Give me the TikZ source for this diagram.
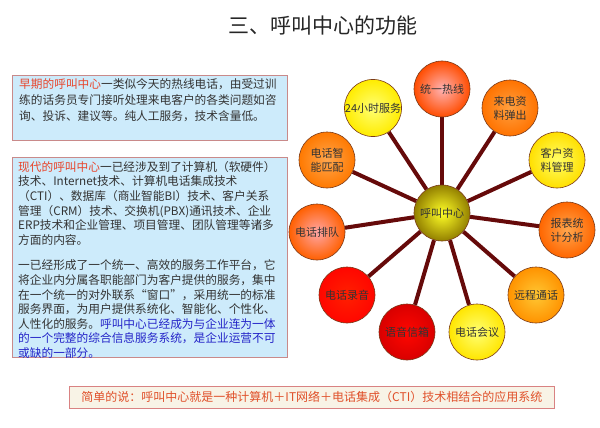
\documentclass[tikz,border=0pt]{standalone}
\usepackage{fontspec}
\setmainfont{Noto Sans CJK SC}
\usepackage{xcolor}
\usepackage{tikz}
\usetikzlibrary{calc,positioning,backgrounds}
\definecolor{textdark}{HTML}{333333}
\definecolor{labelred}{HTML}{E8452C}
\definecolor{noteblue}{HTML}{2424C8}
\definecolor{boxblue}{HTML}{CDEBFB}
\definecolor{boxrose}{HTML}{C98A8A}
\definecolor{sumfill}{HTML}{F8F3E6}
\definecolor{sumline}{HTML}{D98282}
\definecolor{sumtext}{HTML}{E0502A}
\definecolor{spokered}{HTML}{660A0A}
\definecolor{ballrim}{HTML}{7A3A1A}

\begin{document}
\begin{tikzpicture}[
  x=1pt, y=1pt,
  infobox/.style={
    rectangle, fill=boxblue, draw=boxrose, line width=0.8pt,
    anchor=north west, inner sep=0pt,
  },
  infotext/.style={
    anchor=north west, align=left, inner sep=0pt, text=textdark,
  },
  hubball/.style={
    circle, minimum size=56pt, inner sep=0pt, draw=ballrim, line width=0.6pt,
    shading=radial, inner color=yellow!85!white, outer color=olive!70!brown,
    font=\fontsize{11}{13}\selectfont, text=textdark,
  },
  featball/.style={
    circle, minimum size=56pt, inner sep=0pt, draw=ballrim, line width=0.6pt,
    shading=radial, align=center,
    font=\fontsize{11}{14}\selectfont, text=textdark,
  },
  spoke/.style={line width=4pt, draw=spokered},
]
\useasboundingbox (0,0) rectangle (600,-428);

% Title
\node[font=\fontsize{21}{24}\selectfont, text=black!85] (title) at (323,-25) {三、呼叫中心的功能};

% Left boxes
\node[infobox, minimum width=275pt, minimum height=65pt] (early) at (12,-75) {};
\node[infotext, font=\fontsize{11.7}{16}\selectfont] (earlytext) at (19,-78) {%
  {\color{labelred}早期的呼叫中心}一类似今天的热线电话，由受过训\\
  练的话务员专门接听处理来电客户的各类问题如咨\\
  询、投诉、建议等。纯人工服务，技术含量低。};

\node[infobox, minimum width=275pt, minimum height=200pt] (modern) at (12,-157) {};
\node[infotext, font=\fontsize{11.7}{14.6}\selectfont] (moderntext) at (18,-161) {%
  {\color{labelred}现代的呼叫中心}一已经涉及到了计算机（软硬件）\\
  技术、Internet技术、计算机电话集成技术\\
  （CTI）、数据库（商业智能BI）技术、客户关系\\
  管理（CRM）技术、交换机(PBX)通讯技术、企业\\
  ERP技术和企业管理、项目管理、团队管理等诸多\\
  方面的内容。\\[11pt]
  一已经形成了一个统一、高效的服务工作平台，它\\
  将企业内分属各职能部门为客户提供的服务，集中\\
  在一个统一的对外联系“窗口”，采用统一的标准\\
  服务界面，为用户提供系统化、智能化、个性化、\\
  人性化的服务。{\color{noteblue}呼叫中心已经成为与企业连为一体}\\
  {\color{noteblue}的一个完整的综合信息服务系统，是企业运营不可}\\
  {\color{noteblue}或缺的一部分。}};

% Summary
\node[rectangle, fill=sumfill, draw=sumline, line width=0.8pt,
  minimum width=485pt, minimum height=22pt, anchor=north west,
  font=\fontsize{12}{14}\selectfont, text=sumtext] (summary) at (69,-386)
  {简单的说：呼叫中心就是一种计算机＋IT网络＋电话集成（CTI）技术相结合的应用系统};

% Hub and features
\node[hubball] (hub) at (442,-213) {呼叫中心};
\node[featball, inner color=red!30!white, outer color=orange!60!red] (hotline) at (442,-89) {统一热线};
\node[featball, inner color=orange!75!white, outer color=orange!90!red] (popup) at (510,-108) {来电资\\料弹出};
\node[featball, inner color=yellow!60!white, outer color=orange!25!yellow] (crm) at (557,-160) {客户资\\料管理};
\node[featball, inner color=orange!70!white, outer color=orange!80!red] (report) at (567,-230) {报表统\\计分析};
\node[featball, inner color=orange!55!yellow!80!white, outer color=orange!85!yellow] (remote) at (536,-295) {远程通话};
\node[featball, inner color=yellow!55!white, outer color=yellow!80!orange] (meeting) at (477,-332) {电话会议};
\node[featball, inner color=red!95!orange, outer color=red!85!black] (voicemail) at (407,-332) {语音信箱};
\node[featball, inner color=red!75!orange, outer color=red!95!orange] (record) at (347,-295) {电话录音};
\node[featball, inner color=red!35!white, outer color=orange!75!red] (queue) at (317,-232) {电话排队};
\node[featball, inner color=orange!70!white, outer color=orange!95!red] (match) at (327,-160) {电话智\\能匹配};
\node[featball, inner color=yellow!55!white, outer color=yellow!85!orange] (allday) at (373,-108) {24小时服务};

% Spokes
\begin{scope}[on background layer]
  \draw[spoke] (hub) -- (hotline);
  \draw[spoke] (hub) -- (popup);
  \draw[spoke] (hub) -- (crm);
  \draw[spoke] (hub) -- (report);
  \draw[spoke] (hub) -- (remote);
  \draw[spoke] (hub) -- (meeting);
  \draw[spoke] (hub) -- (voicemail);
  \draw[spoke] (hub) -- (record);
  \draw[spoke] (hub) -- (queue);
  \draw[spoke] (hub) -- (match);
  \draw[spoke] (hub) -- (allday);
\end{scope}

\end{tikzpicture}
\end{document}
